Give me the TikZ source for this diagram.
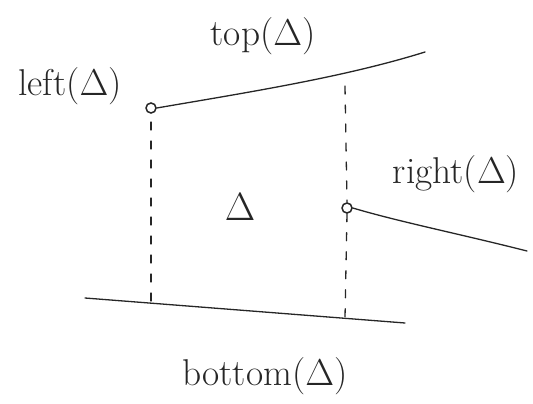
\documentclass[tikz,border=0pt]{standalone}
\newcommand{\biglbl}[2][1.8]{\scalebox{#1}{\fontsize{20.74}{24}\selectfont #2}}
\begin{document}
\begin{tikzpicture}[x=1pt,y=-1pt,
  ink/.style={draw=black!85,line width=1.3pt,line cap=round},
  dashline/.style={ink,dash pattern=on 8pt off 11pt},
  pt/.style={circle,draw=black!85,line width=1.5pt,fill=white,inner sep=0pt,minimum size=10pt},
  lbl/.style={text=black!85,inner sep=0pt}]
\useasboundingbox (0,0) rectangle (533,404);
\node[pt] (L) at (151,108) {};
\node[pt] (R) at (347,208) {};
\coordinate (T1) at (425,52);
\coordinate (R1) at (527,251);
\coordinate (B0) at (85,298);
\coordinate (B1) at (405,323);
\coordinate (LD0) at (151,122);
\coordinate (LD1) at (151,302);
\coordinate (RD0) at (345,86);
\coordinate (RD1) at (345,318);
\draw[ink] (L.east) .. controls (250,92) and (345,77) .. (T1);
\draw[ink] (R.east) .. controls (400,222) and (460,234) .. (R1);
\draw[ink] (B0) -- (B1);
\draw[dashline] (LD0) -- (LD1);
\draw[dashline] (RD0) -- (R.north);
\draw[dashline] (R.south) -- (RD1);
\node[lbl] (tl) at (70,86) {\biglbl{left($\Delta$)}};
\node[lbl] (tt) at (263,36) {\biglbl{top($\Delta$)}};
\node[lbl] (tr) at (456,174) {\biglbl{right($\Delta$)}};
\node[lbl] (tb) at (265,376) {\biglbl{bottom($\Delta$)}};
\node[lbl] (td) at (240,207) {\biglbl[1.9]{$\Delta$}};
\end{tikzpicture}
\end{document}
